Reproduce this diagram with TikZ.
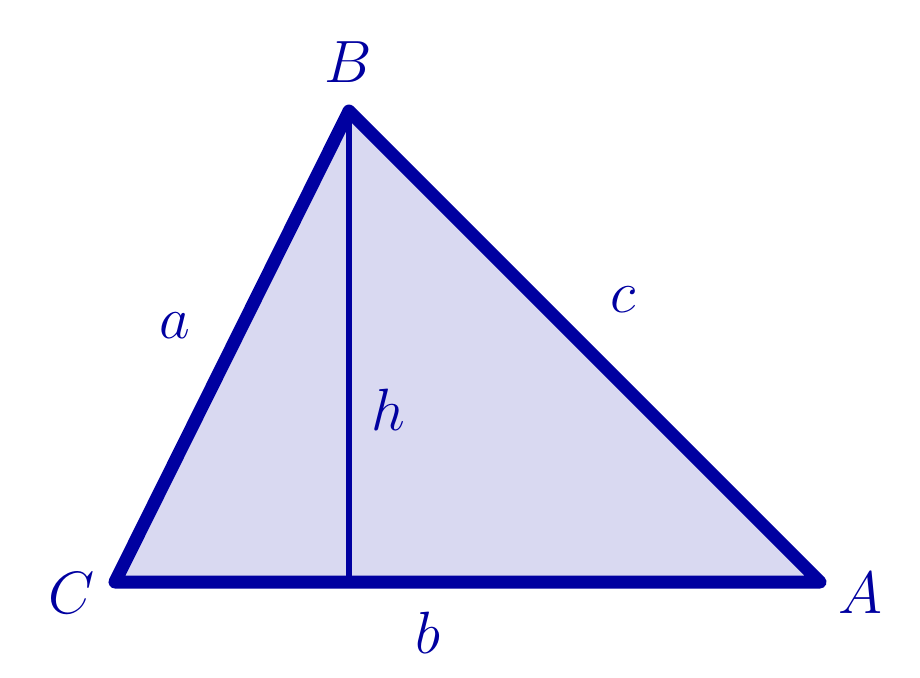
\documentclass[tikz,border=0pt]{standalone}
\usepackage{xcolor}
\definecolor{tri}{RGB}{0,0,160}
\begin{document}
\begin{tikzpicture}[x=0.5pt,y=-0.5pt,
  side/.style={draw=tri,line width=6.5pt,line join=round,line cap=round},
  alt/.style={draw=tri,line width=2.6pt},
  lbl/.style={text=tri,font=\Huge,inner sep=0pt,scale=1.2}]
\useasboundingbox (0,0) rectangle (920,677);
\coordinate (C) at (115,582);
\coordinate (A) at (820,582);
\coordinate (B) at (349,111);
\coordinate (F) at (349,582);
\fill[tri!15] (C) -- (A) -- (B) -- cycle;
\draw[alt] (B) -- (F);
\draw[side] (C) -- (A) -- (B) -- cycle;
\node[lbl] (lB) at (348,62) {$B$};
\node[lbl] (lC) at (72,593) {$C$};
\node[lbl] (lA) at (860,593) {$A$};
\node[lbl] (lb) at (428,633) {$b$};
\node[lbl] (la) at (175,326) {$a$};
\node[lbl] (lc) at (623,300) {$c$};
\node[lbl] (lh) at (388,410) {$h$};
\end{tikzpicture}
\end{document}
